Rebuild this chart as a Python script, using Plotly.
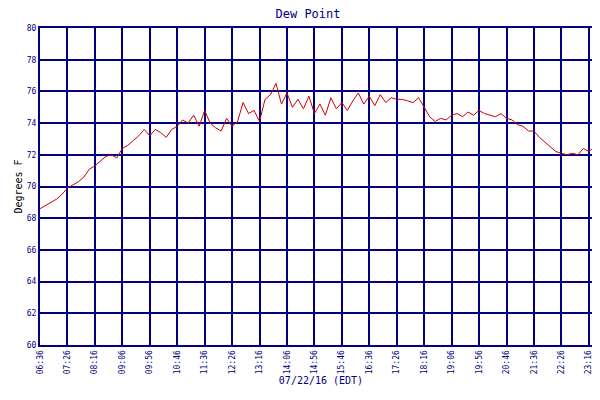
import plotly.graph_objects as go

# minutes after 06:36, sampled every 10 min
minutes = list(range(0, 1030, 10))
dew_point = [68.6, 68.8, 69.0, 69.2, 69.5, 69.9, 70.1, 70.3, 70.6, 71.1,
             71.3, 71.6, 71.9, 72.0, 71.8, 72.4, 72.6, 72.9, 73.2, 73.6,
             73.2, 73.6, 73.4, 73.1, 73.6, 73.8, 74.2, 74.0, 74.5, 73.8,
             74.8, 74.0, 73.7, 73.5, 74.3, 73.8, 74.1, 75.3, 74.6, 74.8,
             74.1, 75.5, 75.8, 76.5, 75.2, 75.9, 75.0, 75.5, 74.9, 75.7,
             74.6, 75.2, 74.5, 75.6, 74.9, 75.3, 74.8, 75.4, 75.9, 75.2,
             75.7, 75.1, 75.8, 75.3, 75.6, 75.5, 75.5, 75.4, 75.3, 75.6,
             75.0, 74.4, 74.1, 74.3, 74.2, 74.5, 74.6, 74.4, 74.7, 74.5,
             74.8, 74.6, 74.5, 74.4, 74.6, 74.3, 74.2, 73.9, 73.8, 73.5,
             73.5, 73.1, 72.8, 72.5, 72.2, 72.1, 72.0, 72.1, 72.0, 72.4,
             72.2, 72.5, 72.5]

tick_pos = list(range(0, 1001, 50)) + [1020]
tick_labels = ["06:36", "07:26", "08:16", "09:06", "09:56", "10:46", "11:36",
               "12:26", "13:16", "14:06", "14:56", "15:46", "16:36", "17:26",
               "18:16", "19:06", "19:56", "20:46", "21:36", "22:26", "23:16",
               "23:38"]

navy = "#000080"
mono = dict(family="DejaVu Sans Mono", size=8, color=navy)

fig = go.Figure()
fig.add_trace(go.Scatter(x=minutes, y=dew_point, mode="lines", name="Dew Point",
                         line=dict(color="#cc0000", width=1)))

fig.update_layout(
    width=600, height=400,
    margin=dict(l=32, r=6, t=20, b=63, autoexpand=False),
    paper_bgcolor="white", plot_bgcolor="white",
    title=dict(text="Dew Point", x=0.5, y=0.995, yanchor="top",
               font=dict(family="DejaVu Sans Mono", size=12, color=navy)),
    font=mono,
    showlegend=True,
    legend=dict(orientation="h", x=0.5, xanchor="center", y=-0.17, yanchor="top",
                font=dict(family="DejaVu Sans Mono", size=8, color=navy)),
)
fig.update_xaxes(range=[0, 1024], tickvals=tick_pos, ticktext=tick_labels,
                 tickangle=-90, showgrid=True, gridcolor=navy, gridwidth=1.5,
                 showline=True, linecolor=navy, linewidth=2, mirror=True,
                 ticks="", zeroline=False, automargin=False,
                 title=dict(text="07/22/16 (EDT)", standoff=4,
                            font=dict(family="DejaVu Sans Mono", size=10, color=navy)))
fig.update_yaxes(range=[60, 80], dtick=2, showgrid=True, gridcolor=navy, gridwidth=1.5,
                 showline=True, linecolor=navy, linewidth=2, mirror=True,
                 ticks="", zeroline=False, automargin=False,
                 title=dict(text="Degrees F", standoff=2,
                            font=dict(family="DejaVu Sans Mono", size=10, color="black")))

fig.write_html("out.html")
